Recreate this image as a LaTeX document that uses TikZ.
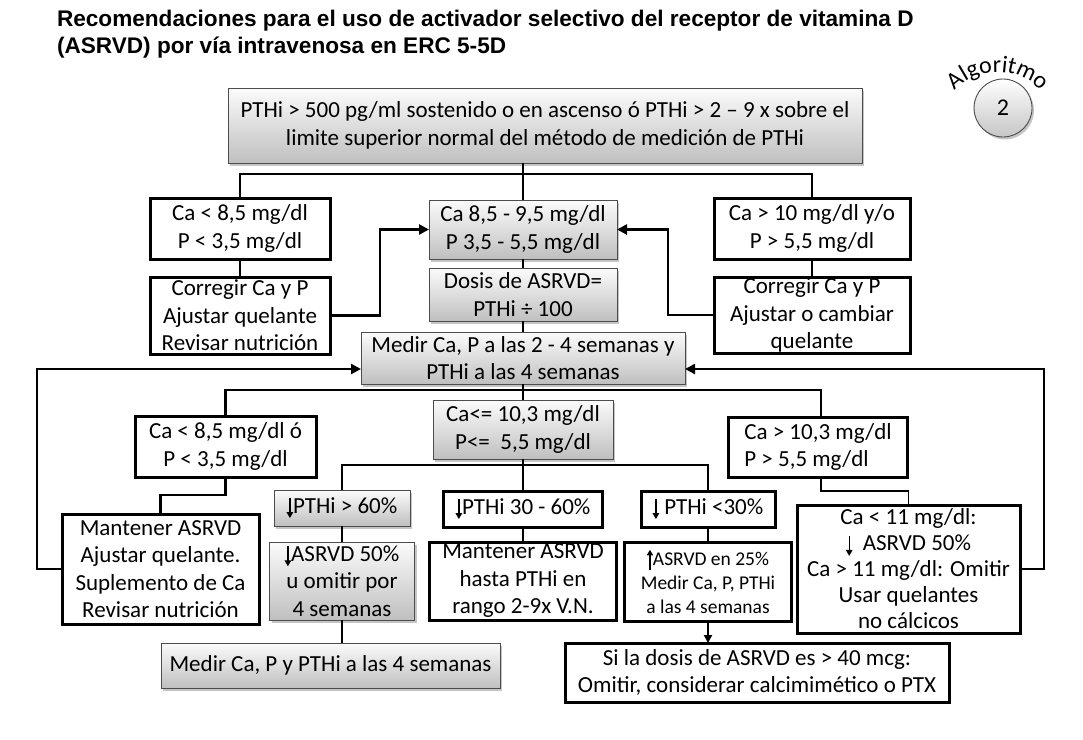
\documentclass[tikz,border=0pt]{standalone}
\usepackage{fontspec}
\setmainfont{Carlito}
\newfontfamily\titlefont{Liberation Sans}
\usetikzlibrary{arrows.meta,shadows}
\newcommand\dnarr{\tikz[baseline=0pt]\draw[line width=1.4pt,-{Triangle[length=6pt,width=6.5pt]}] (0pt,15pt) -- (0pt,-5pt);}
\newcommand\uparr{\tikz[baseline=0pt]\draw[line width=1.3pt,-{Triangle[length=5.5pt,width=6pt]}] (0pt,-4pt) -- (0pt,16pt);}
\begin{document}
\begin{tikzpicture}[x=1pt,y=-1pt,
  every node/.style={inner sep=0pt, outer sep=0pt},
  txt/.style={font=\fontsize{23}{27.5}\selectfont, align=center},
  wbox/.style={txt, draw=black, line width=3pt, fill=white},
  gbox/.style={txt, draw=black!70, line width=0.9pt, top color=gray!3, bottom color=gray!50,
     drop shadow={opacity=0.45, shadow xshift=2pt, shadow yshift=-2.5pt}},
  conn/.style={line width=2.8pt},
  brline/.style={line width=2.4pt},
  thinconn/.style={line width=1.6pt},
  arrowline/.style={conn, -{Triangle[length=10pt,width=10pt]}},
  smallarrow/.style={brline, -{Triangle[length=8pt,width=8pt]}},
]
\useasboundingbox[fill=white] (0,0) rectangle (1083,739);

% title
\node[anchor=base west, font=\titlefont\bfseries\fontsize{22.6}{27}\selectfont] (title1) at (57,26)
  {Recomendaciones para el uso de activador selectivo del receptor de vitamina D};
\node[anchor=base west, font=\titlefont\bfseries\fontsize{22.6}{27}\selectfont] (title2) at (57,53)
  {(ASRVD) por vía intravenosa en ERC 5-5D};

% algoritmo badge
\node[circle, draw=black!70, line width=0.9pt, minimum size=58pt, top color=white, bottom color=gray!45,
  drop shadow={opacity=0.45, shadow xshift=2pt, shadow yshift=-2.5pt},
  font=\fontsize{24}{24}\selectfont] (alg) at (1003,108) {2};
\foreach \ch/\ang [count=\i] in {A/-39.7, l/-30.5, g/-22.4, o/-11.0, r/-0.8, i/5.8, t/12.1, m/25.1, o/40.3}
  \node[anchor=base, rotate=-\ang, font=\fontsize{24}{24}\selectfont] (algl\i)
    at ({998+60*sin(\ang)},{132-60*cos(\ang)}) {\ch};

% row 1
\node[gbox, minimum width=634pt, minimum height=75pt] (T) at (545,125.5)
  {PTHi > 500 pg/ml sostenido o en ascenso ó PTHi > 2 – 9 x sobre el\\limite superior normal del método de medición de PTHi};

% row 2
\node[wbox, minimum width=180pt, minimum height=61pt] (L1) at (240,228.5) {Ca < 8,5 mg/dl\\P < 3,5 mg/dl};
\node[gbox, minimum width=188pt, minimum height=59pt] (C1) at (523,229.5) {Ca 8,5 - 9,5 mg/dl\\P 3,5 - 5,5 mg/dl};
\node[wbox, minimum width=196pt, minimum height=61pt] (R1) at (812,228.5) {Ca > 10 mg/dl y/o\\P > 5,5 mg/dl};

% row 3
\node[wbox, minimum width=180pt, minimum height=77pt] (L2) at (240,315.5) {Corregir Ca y P\\Ajustar quelante\\Revisar nutrición};
\node[gbox, minimum width=188pt, minimum height=53pt] (C2) at (523,294.5) {Dosis de ASRVD=\\PTHi ÷ 100};
\node[wbox, minimum width=196pt, minimum height=76pt] (R2) at (812,315) {Corregir Ca y P\\Ajustar o cambiar\\quelante};

\node[gbox, minimum width=324pt, minimum height=52pt] (M) at (523,358) {Medir Ca, P a las 2 - 4 semanas y\\PTHi a las 4 semanas};

% row 4
\node[wbox, minimum width=181pt, minimum height=61pt] (L3) at (225.5,446.5) {Ca < 8,5 mg/dl ó\\P < 3,5 mg/dl};
\node[gbox, minimum width=180pt, minimum height=59pt] (C3) at (523,429.5) {Ca<= 10,3 mg/dl\\P<=\ \ 5,5 mg/dl};
\node[wbox, minimum width=179pt, minimum height=60pt, align=left] (R3) at (818,447) {Ca > 10,3 mg/dl\\P > 5,5 mg/dl};

\node[wbox, minimum width=197pt, minimum height=110pt] (L4) at (160.5,569) {Mantener ASRVD\\Ajustar quelante.\\Suplemento de Ca\\Revisar nutrición};

\node[gbox, minimum width=136pt, minimum height=36pt] (G1) at (342,508) {\dnarr PTHi > 60\%};
\node[wbox, minimum width=159pt, minimum height=36pt] (W1) at (523,509) {\dnarr PTHi 30 - 60\%};
\node[wbox, minimum width=134pt, minimum height=36pt] (P1) at (708,509) {\dnarr\ PTHi <30\%};

\node[gbox, minimum width=145pt, minimum height=78pt] (G2) at (342,581) {\dnarr ASRVD 50\%\\u omitir por\\4 semanas};
\node[wbox, minimum width=187pt, minimum height=78pt] (W2) at (523,581) {Mantener ASRVD\\hasta PTHi en\\rango 2-9x V.N.};
\node[wbox, minimum width=167pt, minimum height=79pt, font=\fontsize{19.5}{24}\selectfont] (P2) at (708,581.5) {\uparr ASRVD en 25\%\\Medir Ca, P, PTHi\\a las 4 semanas};

\node[wbox, minimum width=223pt, minimum height=128pt, font=\fontsize{23}{26}\selectfont] (R4) at (908.5,569) {Ca < 11 mg/dl:\\\dnarr\ \ ASRVD 50\%\\Ca > 11 mg/dl: Omitir\\Usar quelantes\\no cálcicos};

\node[gbox, minimum width=339pt, minimum height=45pt] (G3) at (330.5,665.5) {Medir Ca, P y PTHi a las 4 semanas};
\node[wbox, minimum width=384pt, minimum height=59pt] (B2) at (757,672.5) {Si la dosis de ASRVD es > 40 mcg:\\Omitir, considerar calcimimético o PTX};

% connectors top
\coordinate (h1) at (523,174);
\draw[conn] (L1.north) |- (h1) -| (R1.north);
\draw[conn] (C1.north |- T.south) -- (C1.north);
\draw[conn] (L1.south) -- (L2.north);
\draw[conn] (R1.south) -- (R2.north);
\draw[conn] (C1.south) -- (C2.north);
\draw[conn] (C2.south) -- (M.north);
\draw[arrowline] (L2.east) -- ++(50,0) |- (C1.west);
\draw[arrowline] (R2.west) -- ++(-46,0) |- (C1.east);

% feedback
\coordinate (fbL) at (37,369);
\coordinate (fbR) at (1044,369);
\draw[arrowline] (L4.west) -| (fbL) -- (fbL -| M.west);
\draw[arrowline] (R4.east) -| (fbR) -- (fbR -| M.east);

% second level
\coordinate (h2) at (523,390);
\coordinate (r3top) at (821,390);
\draw[conn] (M.south) -- (h2);
\draw[conn] (L3.north) |- (h2) -- (r3top) -- (r3top |- R3.north);
\draw[conn] (h2) -- (C3.north);
\draw[conn] (L3.south) -- ++(0,18) -| (L4.north);
\draw[thinconn] (R3.south -| r3top) -- ++(0,14) -| (R4.north);

% third level
\coordinate (h3) at (523,465);
\draw[brline] (C3.south) -- (h3);
\draw[brline] (G1.north) |- (h3) -| (P1.north);
\draw[brline] (h3) -- (W1.north);
\draw[conn] (G1.south) -- (G2.north);
\draw[conn] (W1.south) -- (W2.north);
\draw[conn] (P1.south) -- (P2.north);
\draw[conn] (G2.south) -- (G2.south |- G3.north);
\draw[smallarrow] (P2.south) -- (P2.south |- B2.north);
\end{tikzpicture}
\end{document}
